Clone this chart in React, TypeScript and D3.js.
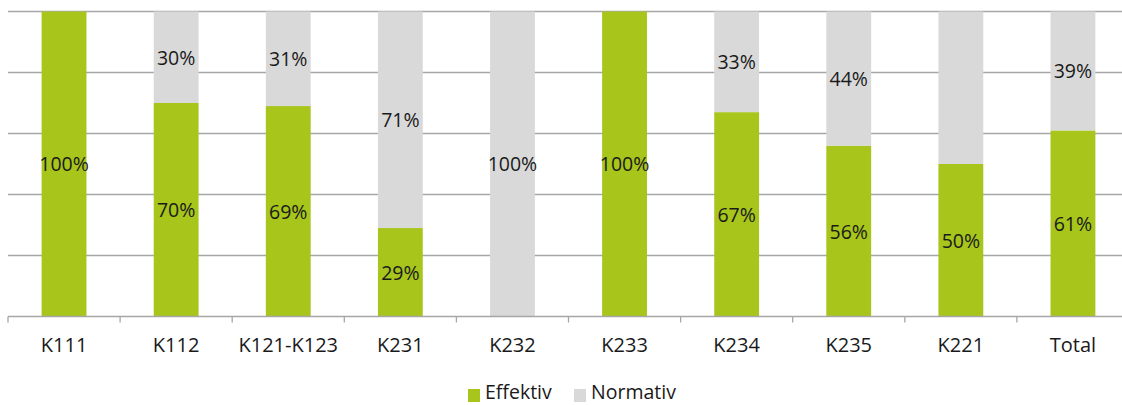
import React from "react";
import * as d3 from "d3";

const categories = ["K111", "K112", "K121-K123", "K231", "K232", "K233", "K234", "K235", "K221", "Total"];
const effektiv = [100, 70, 69, 29, 0, 100, 67, 56, 50, 61];
const normativ = [0, 30, 31, 71, 100, 0, 33, 44, 50, 39];
const normativShowLabel = [false, true, true, true, true, false, true, true, false, true];
const yTicks = [0, 20, 40, 60, 80, 100];
const seriesNames = ["Effektiv", "Normativ"];

const GREEN = "#a7c51a";
const GREY = "#d9d9d9";
const FONT = "'Open Sans', sans-serif";
const FS = 19.5;

export default function App() {
  const width = 1122;
  const height = 405;
  const top = 11.5;
  const bottom = 316.5;
  const x = d3.scaleBand<string>().domain(categories).range([8, 1129]).paddingInner(0.6).paddingOuter(0.3);
  const band = d3.scaleBand<string>().domain(categories).range([8, 1129]);
  const y = d3.scaleLinear().domain([0, 100]).range([bottom, top]);
  const bw = x.bandwidth();

  return (
    <svg width={width} height={height} style={{ display: "block", position: "absolute", left: 0, top: 0 }}>
      <rect width={width} height={height} fill="#fff" />
      {yTicks.slice(1).map((t) => (
        <line key={t} x1={8} x2={width} y1={y(t)} y2={y(t)} stroke="#a6a6a6" strokeWidth={1.3} />
      ))}
      {categories.map((c, i) => {
        const x0 = x(c)!;
        const e = effektiv[i];
        const n = normativ[i];
        return (
          <g key={c}>
            <rect x={x0} y={y(e)} width={bw} height={y(0) - y(e)} fill={GREEN} />
            <rect x={x0} y={y(e + n)} width={bw} height={y(e) - y(e + n)} fill={GREY} />
          </g>
        );
      })}
      <line x1={8} x2={width} y1={y(0)} y2={y(0)} stroke="#a6a6a6" strokeWidth={1.3} />
      {categories.map((c) => (
        <line key={"t" + c} x1={band(c)!} x2={band(c)!} y1={y(0)} y2={y(0) + 6} stroke="#a6a6a6" strokeWidth={1.3} />
      ))}
      {categories.map((c, i) => {
        const cx = x(c)! + bw / 2;
        const e = effektiv[i];
        const n = normativ[i];
        return (
          <g key={"l" + c} fontFamily={FONT} fontSize={FS} fill="#1a1a1a" textAnchor="middle">
            {e > 0 && (
              <text x={cx} y={(y(0) + y(e)) / 2} dy="0.38em">{e}%</text>
            )}
            {n > 0 && normativShowLabel[i] && (
              <text x={cx} y={(y(e) + y(e + n)) / 2} dy="0.38em">{n}%</text>
            )}
            <text x={cx} y={352} fontSize={20}>{c}</text>
          </g>
        );
      })}
      <g fontFamily={FONT} fontSize={FS} fill="#1a1a1a">
        {seriesNames.map((s, i) => {
          const lx = i === 0 ? 468 : 574;
          return (
            <g key={s}>
              <rect x={lx} y={389} width={12} height={13} fill={i === 0 ? GREEN : GREY} />
              <text x={lx + 17} y={399}>{s}</text>
            </g>
          );
        })}
      </g>
    </svg>
  );
}
